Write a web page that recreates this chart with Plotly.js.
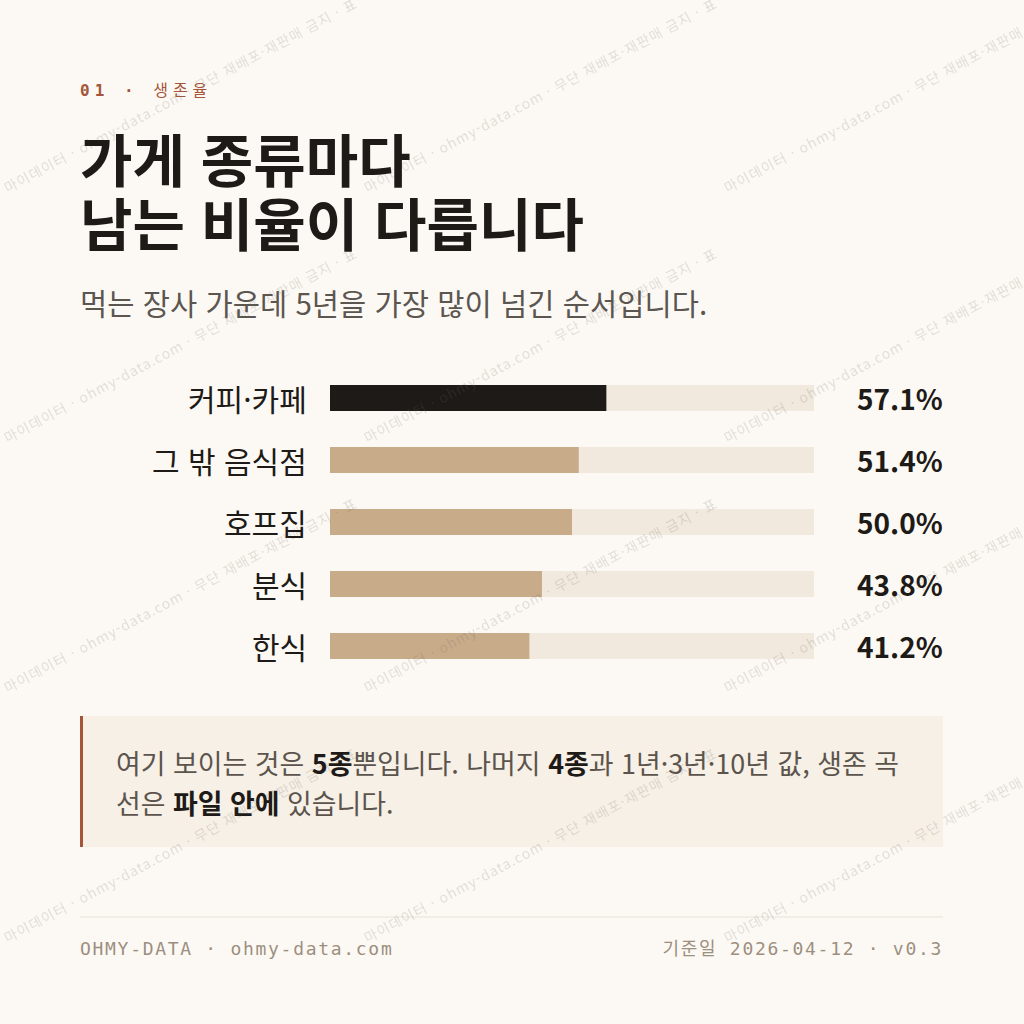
<!DOCTYPE html>
<html lang="ko">
<head>
<meta charset="utf-8">
<script src="https://cdn.plot.ly/plotly-3.0.1.min.js"></script>
<style>
  html, body { margin: 0; padding: 0; background: #FCF9F4; }
  #chart { width: 1024px; height: 1024px; }
</style>
</head>
<body>
<div id="chart"></div>
<script>
// 데이터
const categories = ['커피·카페', '그 밖 음식점', '호프집', '분식', '한식'];
const survival5y = [57.1, 51.4, 50.0, 43.8, 41.2];
const scaleMax = 100;

// 색
const BG = '#FCF9F4';
const TRACK = '#F1E9DD';
const TAN = '#C8AC8A';
const DARK = '#1E1A17';
const RUST = '#A4553A';
const KR = '"Noto Sans CJK KR", "Noto Sans", sans-serif';
const MONO = '"DejaVu Sans Mono", "Liberation Mono", "Noto Sans CJK KR", monospace';

// 픽셀(위에서부터) -> paper 좌표
const W = 1024, H = 1024;
const px = v => v / W;
const py = v => 1 - v / H;

// 막대 영역: 첫 막대 중심 398, 간격 62
const rowH = 62, firstCenter = 398;
const yTop = firstCenter - rowH / 2;
const yBottom = yTop + rowH * categories.length;

const track = {
    type: 'bar',
    orientation: 'h',
    y: categories,
    x: categories.map(() => scaleMax),
    width: 0.42,
    marker: { color: TRACK },
    hoverinfo: 'skip'
};

const bars = {
    type: 'bar',
    orientation: 'h',
    y: categories,
    x: survival5y,
    width: 0.42,
    marker: { color: categories.map((c, i) => i === 0 ? DARK : TAN) },
    hoverinfo: 'skip'
};

const annotations = [];

function txt(text, x, y, size, color, opts) {
    annotations.push(Object.assign({
        text: text,
        xref: 'paper', yref: 'paper',
        x: px(x), y: py(y),
        xanchor: 'left', yanchor: 'middle',
        showarrow: false,
        font: { family: KR, size: size, color: color }
    }, opts || {}));
    return annotations.length - 1;
}

// 워터마크
const wmText = '마이데이터 · ohmy-data.com · 무단 재배포·재판매 금지 · 표';
const wmCols = [0, 360, 720];
const wmRows = [190, 440, 690, 940];
const wmIdx = [];
wmRows.forEach(r => {
    wmCols.forEach(c => {
        wmIdx.push(txt(wmText, c + 180, r - 95, 14, 'rgba(110,100,90,0.2)',
            { xanchor: 'center', textangle: -28 }));
    });
});

// 머리
const idxEyebrow = txt('<b>01 · </b>생존율', 80, 90, 16, RUST, { font: { family: MONO, size: 16, color: RUST } });
txt('<b>가게 종류마다</b>', 78, 157, 57, DARK);
txt('<b>남는 비율이 다릅니다</b>', 78, 221, 57, DARK);
txt('먹는 장사 가운데 5년을 가장 많이 넘긴 순서입니다.', 78, 302, 29.6, '#5C5650');

// 막대 라벨과 값
categories.forEach((c, i) => {
    annotations.push({
        text: c, xref: 'paper', yref: 'y', x: px(309), y: c,
        xanchor: 'right', yanchor: 'middle', showarrow: false,
        font: { family: KR, size: 30, color: DARK }
    });
    annotations.push({
        text: '<b>' + survival5y[i].toFixed(1) + '%</b>', xref: 'paper', yref: 'y', x: px(945), y: c,
        xanchor: 'right', yanchor: 'middle', showarrow: false,
        font: { family: KR, size: 28, color: DARK }
    });
});

// 메모 상자
const NOTE = '#5C544C';
txt('여기 보이는 것은 <b style="color:' + DARK + '">5종</b>뿐입니다. 나머지 <b style="color:' + DARK + '">4종</b>과 1년·3년·10년 값, 생존 곡',
    114, 762, 26.9, NOTE);
txt('선은 <b style="color:' + DARK + '">파일 안에</b> 있습니다.', 114, 802, 26.9, NOTE);

// 바닥글
const FOOT = '#9C8F80';
const idxFootL = txt('OHMY-DATA · ohmy-data.com', 80, 948, 18, FOOT, { font: { family: MONO, size: 18, color: FOOT } });
const idxFootR = txt('기준일 2026-04-12 · v0.3', 943, 948, 18, FOOT, { xanchor: 'right', font: { family: MONO, size: 18, color: FOOT } });

const shapes = [
    { type: 'rect', xref: 'paper', yref: 'paper', x0: px(80), x1: px(943), y0: py(847), y1: py(716),
      fillcolor: '#F6F0E7', line: { width: 0 }, layer: 'below' },
    { type: 'rect', xref: 'paper', yref: 'paper', x0: px(80), x1: px(83), y0: py(847), y1: py(716),
      fillcolor: RUST, line: { width: 0 }, layer: 'below' },
    { type: 'line', xref: 'paper', yref: 'paper', x0: px(80), x1: px(943), y0: py(917), y1: py(917),
      line: { color: '#E8E1D6', width: 1 } }
];

const layout = {
    width: W, height: H,
    margin: { l: 0, r: 0, t: 0, b: 0 },
    paper_bgcolor: BG,
    plot_bgcolor: 'rgba(0,0,0,0)',
    showlegend: false,
    barmode: 'overlay',
    xaxis: { domain: [px(330), px(814)], range: [0, scaleMax], visible: false, fixedrange: true },
    yaxis: { domain: [py(yBottom), py(yTop)], type: 'category', range: [categories.length - 0.5, -0.5],
             visible: false, fixedrange: true },
    annotations: annotations,
    shapes: shapes
};

Plotly.newPlot('chart', [track, bars], layout, { displayModeBar: false, staticPlot: true }).then(gd => {
    // 자간 주고 가장자리 다시 맞추기
    const box = gd.getBoundingClientRect();
    function spaced(k, spacing, left, right) {
        const t = gd.querySelector('.annotation[data-index="' + k + '"] text');
        if (!t) return;
        t.style.letterSpacing = spacing;
        const r = t.getBoundingClientRect();
        let dx = 0;
        if (left != null) dx = left - (r.left - box.left);
        if (right != null) dx = right - (r.right - box.left);
        t.setAttribute('x', parseFloat(t.getAttribute('x') || 0) + dx);
    }
    spaced(idxEyebrow, '5px', 80, null);
    spaced(idxFootL, '1.7px', 80, null);
    spaced(idxFootR, '1.7px', null, 943);
    wmIdx.forEach(k => {
        const t = gd.querySelector('.annotation[data-index="' + k + '"] text');
        if (t) t.style.letterSpacing = '1px';
    });
});
</script>
</body>
</html>
